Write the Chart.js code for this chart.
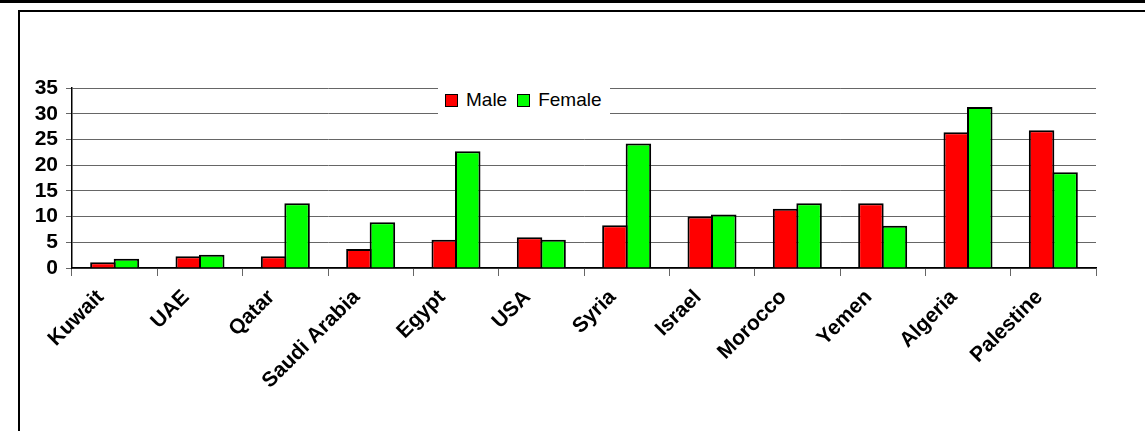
<!DOCTYPE html>
<html>
<head>
<meta charset="utf-8">
<script src="https://cdn.jsdelivr.net/npm/chart.js@4/dist/chart.umd.min.js"></script>
<style>
  html, body { margin: 0; padding: 0; background: #fff; }
  #wrap { position: relative; width: 1145px; height: 431px; overflow: hidden; font-family: "Liberation Sans", Arial, sans-serif; }
  #band { position: absolute; left: 0; top: 0; width: 1145px; height: 3px; background: #000; }
  #frame { position: absolute; left: 18px; top: 10px; width: 1200px; height: 500px; border-left: 2px solid #000; border-top: 2px solid #000; }
  #chart { position: absolute; left: 0; top: 0; }
  #legend { position: absolute; left: 438px; top: 86px; width: 165px; height: 28px; padding-left: 7px; background: #fff;
            display: flex; align-items: center; font-size: 19px; color: #000; }
  #legend .item { display: flex; align-items: center; margin-right: 10px; }
  #legend .sw { width: 11px; height: 11px; border: 1px solid #000; margin-right: 8px; }
</style>
</head>
<body>
<div id="wrap">
  <div id="band"></div>
  <div id="frame"></div>
  <canvas id="chart" width="1145" height="431"></canvas>
  <div id="legend"></div>
</div>
<script>
const categories = ["Kuwait", "UAE", "Qatar", "Saudi Arabia", "Egypt", "USA", "Syria", "Israel", "Morocco", "Yemen", "Algeria", "Palestine"];
const maleValues = [1.1, 2.3, 2.3, 3.7, 5.5, 6.0, 8.3, 10.0, 11.5, 12.6, 26.4, 26.8];
const femaleValues = [1.8, 2.6, 12.6, 8.9, 22.7, 5.5, 24.2, 10.4, 12.6, 8.2, 31.3, 18.6];
const seriesNames = ["Male", "Female"];
const yMin = 0, yMax = 35, yStep = 5;

const seriesColors = ["#ff0000", "#00ff00"];
const font = "'Liberation Sans', Arial, sans-serif";

const chart = new Chart(document.getElementById("chart"), {
  type: "bar",
  data: {
    labels: categories,
    datasets: [
      { label: seriesNames[0], data: maleValues, backgroundColor: seriesColors[0] },
      { label: seriesNames[1], data: femaleValues, backgroundColor: seriesColors[1] }
    ]
  },
  options: {
    responsive: false,
    animation: false,
    events: [],
    layout: { padding: { top: 88, right: 49, left: 0, bottom: 0 } },
    datasets: {
      bar: {
        borderColor: "#000",
        borderWidth: 2,
        // neighbouring bars overlap by one border so they share an edge
        categoryPercentage: 0.551,
        barPercentage: 1.085
      }
    },
    plugins: { legend: { display: false }, tooltip: { enabled: false } },
    scales: {
      x: {
        afterFit: s => { s.height = 163; },
        grid: { drawOnChartArea: false, drawTicks: true, tickLength: 8, color: "#666", lineWidth: 1, offset: true },
        border: { display: true, color: "#000", width: 1.5 },
        ticks: {
          maxRotation: 45, minRotation: 45, autoSkip: false,
          color: "#000", padding: 9, labelOffset: -14,
          font: { family: font, size: 21, weight: "bold" }
        }
      },
      y: {
        min: yMin, max: yMax,
        afterFit: s => { s.width = 72; },
        grid: { color: "#666", lineWidth: 1, tickLength: 6 },
        border: { display: true, color: "#000", width: 1.5 },
        ticks: {
          stepSize: yStep, autoSkip: false,
          color: "#000", padding: 8,
          font: { family: font, size: 21, weight: "bold" }
        }
      }
    }
  }
});

// legend built from the datasets
const legend = document.getElementById("legend");
chart.data.datasets.forEach(ds => {
  const item = document.createElement("span");
  item.className = "item";
  const sw = document.createElement("span");
  sw.className = "sw";
  sw.style.background = ds.backgroundColor;
  item.appendChild(sw);
  item.appendChild(document.createTextNode(ds.label));
  legend.appendChild(item);
});
</script>
</body>
</html>
